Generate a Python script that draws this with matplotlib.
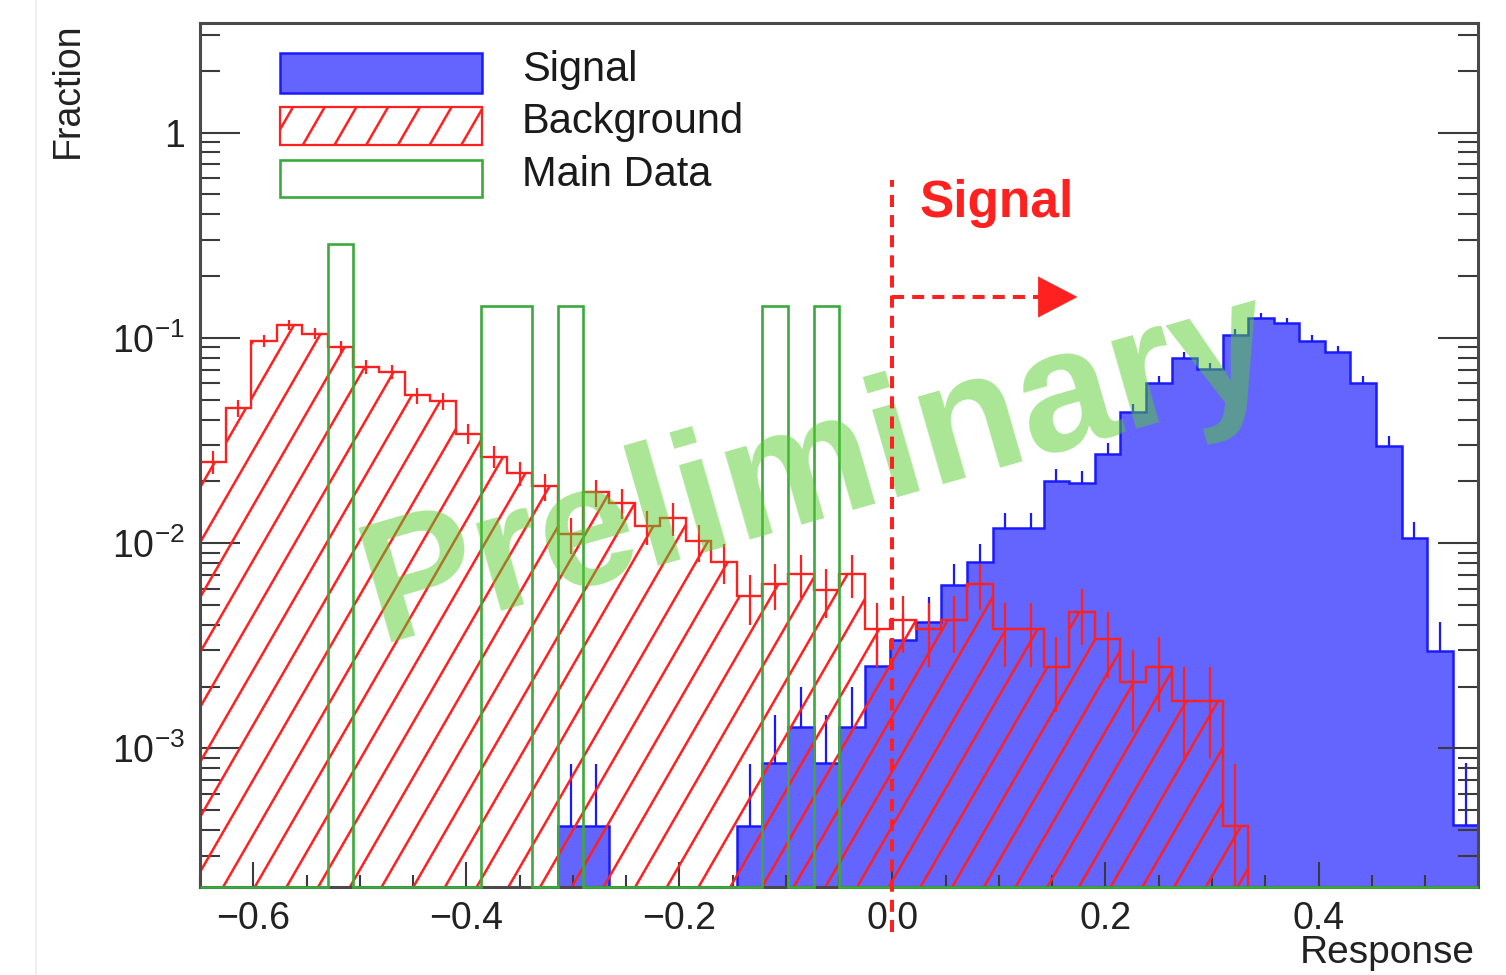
import numpy as np
import matplotlib
matplotlib.use('Agg')
import matplotlib.pyplot as plt
from matplotlib.patches import PathPatch, Rectangle, Polygon
from matplotlib.path import Path
from matplotlib.collections import LineCollection
from matplotlib.lines import Line2D
from matplotlib.transforms import IdentityTransform, blended_transform_factory
from matplotlib.ticker import MultipleLocator, LogLocator, NullFormatter

plt.rcParams['font.family'] = ['Liberation Sans', 'DejaVu Sans']
plt.rcParams['mathtext.fontset'] = 'custom'
plt.rcParams['mathtext.rm'] = 'Liberation Sans'
plt.rcParams['mathtext.it'] = 'Liberation Sans:italic'
plt.rcParams['mathtext.bf'] = 'Liberation Sans:bold'

# histogram binning: 50 bins on [-0.65, 0.55]
x_lo, x_hi, n_bins = -0.65, 0.55, 50
y_lo, y_hi = 2.12e-4, 3.43

signal = [0, 0, 0, 0, 0, 0, 0, 0, 0, 0,
          0, 0, 0, 0, 4.2e-4, 4.2e-4, 0, 0, 0, 0,
          0, 4.2e-4, 8.5e-4, 1.27e-3, 8.5e-4, 1.27e-3, 2.53e-3, 3.38e-3, 4.15e-3, 6.26e-3,
          8.05e-3, 0.0118, 0.0118, 0.0200, 0.0196, 0.0272, 0.0433, 0.0601, 0.0796, 0.0704,
          0.1035, 0.1247, 0.118, 0.097, 0.0857, 0.0601, 0.0298, 0.01057, 0.00299, 4.25e-4]
signal_err = [0, 0, 0, 0, 0, 0, 0, 0, 0, 0,
              0, 0, 0, 0, 4.2e-4, 4.2e-4, 0, 0, 0, 0,
              0, 4.2e-4, 6.0e-4, 7.3e-4, 6.0e-4, 7.3e-4, 1.03e-3, 1.19e-3, 1.32e-3, 1.62e-3,
              1.84e-3, 2.23e-3, 2.23e-3, 2.9e-3, 2.87e-3, 3.38e-3, 4.26e-3, 5.02e-3, 5.78e-3, 5.44e-3,
              6.59e-3, 7.24e-3, 7.04e-3, 6.38e-3, 6.0e-3, 5.02e-3, 3.54e-3, 2.11e-3, 1.12e-3, 4.2e-4]

background = [0.0248, 0.0455, 0.097, 0.1157, 0.105, 0.0907, 0.0725, 0.0685, 0.0524, 0.0493,
              0.0341, 0.0264, 0.0219, 0.0189, 0.0111, 0.0177, 0.0157, 0.0121, 0.0132, 0.0102,
              0.0081, 0.0055, 0.0063, 0.0071, 0.0059, 0.0071, 0.0038, 0.0042, 0.0038, 0.0042,
              0.0063, 0.0038, 0.0038, 0.0025, 0.0046, 0.0034, 0.0021, 0.0025, 0.0017, 0.0017,
              0.00042, 0, 0, 0, 0, 0, 0, 0, 0, 0]
background_err = [0.0032, 0.0044, 0.0064, 0.0070, 0.0066, 0.0062, 0.0055, 0.0054, 0.0047, 0.0046,
                  0.0038, 0.0033, 0.0030, 0.0028, 0.0022, 0.0027, 0.0026, 0.0023, 0.0024, 0.0021,
                  0.0018, 0.0015, 0.0016, 0.0017, 0.0016, 0.0017, 0.0013, 0.0013, 0.0013, 0.0013,
                  0.0016, 0.0013, 0.0013, 0.0010, 0.0014, 0.0012, 0.0009, 0.0010, 0.0008, 0.0008,
                  0.00042, 0, 0, 0, 0, 0, 0, 0, 0, 0]

main_data = [0, 0, 0, 0, 0, 0.2857, 0, 0, 0, 0,
             0, 0.1429, 0.1429, 0, 0.1429, 0, 0, 0, 0, 0,
             0, 0, 0.1429, 0, 0.1429, 0, 0, 0, 0, 0,
             0, 0, 0, 0, 0, 0, 0, 0, 0, 0,
             0, 0, 0, 0, 0, 0, 0, 0, 0, 0]

x_ticks = [-0.6, -0.4, -0.2, 0.0, 0.2, 0.4]
x_tick_labels = ['\u22120.6', '\u22120.4', '\u22120.2', '0.0', '0.2', '0.4']
y_ticks = [1e-3, 1e-2, 1e-1, 1]
y_tick_labels = ['$10^{-3}$', '$10^{-2}$', '$10^{-1}$', '1']
cut_value = 0.0

BLUE_FILL = '#6464ff'
BLUE_LINE = '#1a1aff'
RED = '#ff2020'
GREEN = '#3caa3c'
WATER = '#55cd2d'

W, H = 1506, 975
AX_L, AX_R, AX_T, AX_B = 200, 1478.3, 22.7, 886.7

def ax_frac(px, py):
    return ((px - AX_L) / (AX_R - AX_L), (AX_B - py) / (AX_B - AX_T))

fig = plt.figure(figsize=(W / 100, H / 100), dpi=100)
ax = fig.add_axes([AX_L / W, 1 - AX_B / H, (AX_R - AX_L) / W, (AX_B - AX_T) / H])
ax.set_yscale('log', nonpositive='clip')
ax.set_xlim(x_lo, x_hi)
ax.set_ylim(y_lo, y_hi)

edges = np.linspace(x_lo, x_hi, n_bins + 1)
centers = 0.5 * (edges[:-1] + edges[1:])
sig = np.array(signal)
sig_e = np.array(signal_err)
bkg = np.array(background)
bkg_e = np.array(background_err)
dat = np.array(main_data)

floor = 1e-6
sig_draw = np.where(sig > 0, sig, floor)
bkg_draw = np.where(bkg > 0, bkg, floor)

# signal: errors first, fill hides the lower half
m = sig > 0
ax.errorbar(centers[m], sig[m], yerr=sig_e[m], fmt='none', ecolor=BLUE_LINE,
            elinewidth=1.6, capsize=0, zorder=1)
ax.stairs(sig_draw, edges, baseline=floor, fill=True, color=BLUE_FILL, zorder=1.1)
ax.stairs(sig_draw, edges, baseline=floor, fill=False, color=BLUE_LINE, lw=1.8, zorder=1.2)

# background: hatched region (hand-made 60 degree hatch)
hatch_top = np.where(bkg > y_lo, bkg, y_lo)
verts = [(edges[0], y_lo)]
for i in range(n_bins):
    verts += [(edges[i], hatch_top[i]), (edges[i + 1], hatch_top[i])]
verts += [(edges[-1], y_lo), (edges[0], y_lo)]
clip_poly = PathPatch(Path(verts), facecolor='none', edgecolor='none', transform=ax.transData)
ax.add_patch(clip_poly)


def hatch_lines(clip, color, lw, zorder):
    starts = 172.3 + 31.7 * np.arange(-45, 50)
    run = H / np.tan(np.radians(60))
    segs = [[(s, 0), (s + run, H)] for s in starts]
    lc = LineCollection(segs, colors=color, linewidths=lw, transform=IdentityTransform(),
                        zorder=zorder)
    ax.add_collection(lc, autolim=False)
    lc.set_clip_path(clip)
    return lc


hatch_lines(clip_poly, RED, 1.8, 2)
ax.stairs(bkg_draw, edges, baseline=floor, fill=False, color=RED, lw=1.7, zorder=2.2)
m = bkg > 0
ax.errorbar(centers[m], bkg[m], yerr=bkg_e[m], fmt='none', ecolor=RED,
            elinewidth=1.6, capsize=0, zorder=2.3)

# main data
dat_draw = np.where(dat > 0, dat, y_lo)
st = ax.stairs(dat_draw, edges, baseline=y_lo, fill=False, color=GREEN, lw=1.9, zorder=3)
st.set_clip_on(False)

# watermark
wx, wy = ax_frac(818, 470)
ax.text(wx, wy, 'Preliminary', transform=ax.transAxes, rotation=16, ha='center', va='center',
        fontsize=124, fontweight='bold', color=WATER, alpha=0.5, zorder=4)

# cut line and arrow
bt = blended_transform_factory(ax.transData, ax.transAxes)
_, y_top = ax_frac(0, 180)
_, y_bot = ax_frac(0, 932)
ax.plot([cut_value, cut_value], [y_bot, y_top], transform=bt, color=RED, lw=2.9,
        ls=(0, (3, 2)), clip_on=False, zorder=5)
_, y_arr = ax_frac(0, 297)
ax.plot([cut_value, 0.139], [y_arr, y_arr], transform=bt, color=RED, lw=2.9,
        ls=(0, (3, 2)), zorder=5)
half = 20 / (AX_B - AX_T)
ax.add_patch(Polygon([(0.137, y_arr - half), (0.137, y_arr + half), (0.173, y_arr)],
                     closed=True, transform=bt, facecolor=RED, edgecolor=RED, lw=0.5, zorder=5))
sx, sy = ax_frac(920, 203)
ax.text(sx, sy, 'Signal', transform=ax.transAxes, ha='left', va='center', fontsize=37,
        fontweight='bold', color=RED, zorder=5)

# legend drawn by hand
def rect(px0, py0, px1, py1, **kw):
    x0, y0 = ax_frac(px0, py1)
    x1, y1 = ax_frac(px1, py0)
    r = Rectangle((x0, y0), x1 - x0, y1 - y0, transform=ax.transAxes, zorder=6, **kw)
    ax.add_patch(r)
    return r

rect(280, 53, 482, 93, facecolor=BLUE_FILL, edgecolor=BLUE_LINE, lw=1.8)
bg_box = rect(280, 107, 482, 145, facecolor='none', edgecolor=RED, lw=1.6)
hatch_lines(bg_box, RED, 1.8, 6)
rect(280, 160, 482, 197, facecolor='none', edgecolor=GREEN, lw=1.9)
for label, py in [('Signal', 70), ('Background', 122), ('Main Data', 175)]:
    tx, ty = ax_frac(522, py)
    ax.text(tx, ty, label, transform=ax.transAxes, ha='left', va='center', fontsize=30,
            color='#1a1a1a', zorder=6)

# axes styling (ROOT look)
for s in ax.spines.values():
    s.set_linewidth(2.2)
    s.set_color('#4a4a4a')
ax.set_xticks(x_ticks)
ax.set_xticklabels(x_tick_labels)
ax.xaxis.set_minor_locator(MultipleLocator(0.05))
ax.set_yticks(y_ticks)
ax.set_yticklabels(y_tick_labels)
ax.yaxis.set_minor_locator(LogLocator(base=10, subs=np.arange(2, 10), numticks=20))
ax.yaxis.set_minor_formatter(NullFormatter())
ax.tick_params(axis='both', which='both', direction='in', colors='#3a3a3a', labelcolor='#222222',
               labelsize=27, width=1.5)
ax.tick_params(axis='x', which='major', length=18, pad=10, top=False)
ax.tick_params(axis='x', which='minor', length=8.6, top=False)
ax.tick_params(axis='y', which='major', length=28.8, pad=11, right=True)
ax.tick_params(axis='y', which='minor', length=14.4, right=True)

fig.text(68 / W, 1 - 22 / H, 'Fraction', rotation=90, ha='center', va='top', fontsize=27,
         color='#222222')
fig.text(1475 / W, 1 - 953 / H, 'Response', ha='right', va='center', fontsize=28,
         color='#222222')
fig.add_artist(Line2D([36 / W, 36 / W], [0, 1], color='#ececec', lw=1.2))

fig.savefig('out.png', dpi=100)
